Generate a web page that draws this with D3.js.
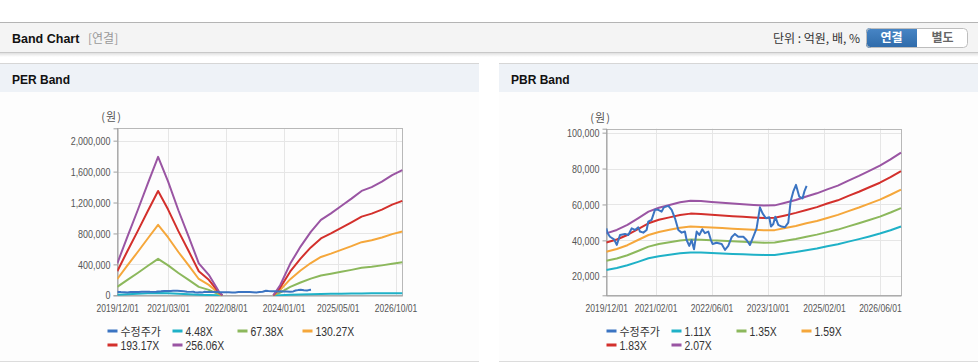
<!DOCTYPE html>
<html><head><meta charset="utf-8">
<script src="https://cdn.jsdelivr.net/npm/d3@7"></script>
<style>
html,body{margin:0;padding:0;background:#fff;}
svg{display:block;}
</style></head>
<body>
<svg id="c" width="978" height="364"></svg>
<script>
// ---------- DATA ----------
const seriesNamesPER = ["수정주가", "4.48X", "67.38X", "130.27X", "193.17X", "256.06X"];
const seriesNamesPBR = ["수정주가", "1.11X", "1.35X", "1.59X", "1.83X", "2.07X"];
const seriesColors = ["#3b74c2", "#1fb1c7", "#8cb85c", "#f5a73b", "#d3302c", "#9a55a3"];

const xTicksPER = ["2019/12/01", "2021/03/01", "2022/08/01", "2024/01/01", "2025/05/01", "2026/10/01"];
const xTicksPBR = ["2019/12/01", "2021/02/01", "2022/06/01", "2023/10/01", "2025/02/01", "2026/06/01"];
const yTicksPER = [0, 400000, 800000, 1200000, 1600000, 2000000];
const yTicksPBR = [20000, 40000, 60000, 80000, 100000];

// adjusted share price (shared by both charts)
const priceDates = ["2019-12-01","2019-12-13","2020-01-02","2020-02-06","2020-03-01","2020-03-29","2020-05-11","2020-06-09","2020-07-08","2020-08-06","2020-09-04","2020-09-18","2020-10-17","2020-11-15","2020-11-29","2020-12-28","2021-01-26","2021-02-24","2021-03-25","2021-04-14","2021-05-22","2021-06-20","2021-07-19","2021-08-17","2021-09-15","2021-10-13","2021-10-28","2021-11-20","2021-12-10","2021-12-31","2022-01-23","2022-02-15","2022-03-13","2022-04-05","2022-05-04","2022-05-27","2022-06-10","2022-07-15","2022-08-28","2022-09-26","2022-10-24","2022-11-22","2022-12-21","2023-01-19","2023-03-04","2023-04-01","2023-04-30","2023-05-29","2023-06-27","2023-07-26","2023-08-18","2023-09-16","2023-10-15","2023-10-30","2023-11-19","2023-12-06","2024-01-01","2024-01-30","2024-02-28","2024-03-28","2024-04-17","2024-05-10","2024-06-03","2024-07-01","2024-07-30","2024-08-14","2024-09-03"];
const priceValues = [46700,44000,42000,40600,37500,43000,43600,43000,46700,45800,47300,44900,44300,45800,50400,51400,57000,57000,56000,58400,59200,57000,52300,45800,44300,44900,40200,36900,40200,35000,44900,43000,46200,44000,44900,40200,38000,38700,38000,34700,36900,41700,43600,42000,42000,40200,37400,42000,46700,58400,55000,52300,52900,47700,49100,53200,48600,47700,47300,49900,61600,67100,70900,64400,63400,67100,70300];

// PER band dates (null = no value)
const perBandDates = ["2019-12","2020-03","2020-06","2020-09","2020-12","2021-03","2021-06","2021-09","2021-12","2022-03","2022-06","2022-07","2023-01","2023-10","2023-12","2024-03","2024-06","2024-09","2024-12","2025-03","2025-06","2025-09","2025-12","2026-03","2026-06","2026-09","2026-12"];
const per448  = [7000,13000,19000,25000,31000,26000,19000,13000,7000,5000,1000,0,null,0,2000,7000,11000,14000,17000,19000,20000,22000,24000,25000,26000,27000,28000];
const per6738 = [109000,200000,289000,382000,471000,387000,289000,200000,109000,70000,12000,0,null,0,34000,108000,166000,216000,257000,279000,304000,329000,355000,368000,387000,409000,426000];
const per13027= [211000,387000,560000,738000,911000,748000,560000,387000,211000,135000,23000,0,null,0,66000,209000,321000,417000,496000,539000,588000,636000,687000,712000,748000,791000,824000];
const per19317= [312000,573000,830000,1094000,1350000,1109000,830000,573000,312000,200000,34000,0,null,0,98000,309000,475000,619000,736000,800000,871000,943000,1018000,1056000,1109000,1173000,1222000];
const per25606= [414000,760000,1100000,1450000,1790000,1470000,1100000,760000,414000,265000,45000,0,null,0,130000,410000,630000,820000,975000,1060000,1155000,1250000,1350000,1400000,1470000,1555000,1620000];

// PBR band dates
const pbrBandDates = ["2019-12","2020-03","2020-06","2020-09","2020-12","2021-03","2021-06","2021-09","2021-12","2022-03","2022-06","2022-09","2022-12","2023-03","2023-06","2023-09","2023-12","2024-03","2024-06","2024-09","2024-12","2025-03","2025-06","2025-09","2025-12","2026-03","2026-06","2026-09","2026-12"];
const pbr111 = [23500,24600,26100,28000,30000,31200,32000,32800,33300,33200,32900,32700,32400,32200,32000,31900,31900,32700,33500,34500,35500,36700,37800,39300,40700,42200,43800,45600,47700];
const pbr135 = [28600,29900,31700,34100,36500,38000,38900,39900,40500,40400,40000,39800,39500,39200,38900,38700,38800,39800,40800,42000,43200,44600,46000,47800,49500,51300,53200,55500,58000];
const pbr159 = [33700,35200,37300,40200,43000,44700,45900,47000,47700,47500,47200,46900,46500,46200,45900,45600,45700,46900,48000,49500,50800,52500,54200,56300,58300,60500,62700,65400,68300];
const pbr183 = [38800,40500,43000,46200,49500,51500,52800,54100,54900,54700,54300,53900,53500,53100,52800,52500,52600,53900,55300,56900,58500,60500,62300,64800,67100,69600,72100,75200,78600];
const pbr207 = [43900,45800,48600,52300,56000,58200,59700,61200,62100,61900,61400,61000,60500,60100,59700,59400,59500,61000,62500,64400,66200,68400,70500,73300,75900,78700,81600,85100,88900];

// ---------- DRAW ----------
const svg = d3.select("#c");
const pDay = d3.timeParse("%Y-%m-%d");
const pMon = d3.timeParse("%Y-%m");
const pTick = d3.timeParse("%Y/%m/%d");
const fmt = d3.format(",");
const LAT = "'Liberation Sans',Arial,sans-serif";
const KR = "'Noto Sans CJK KR','Noto Sans',sans-serif";

const defs = svg.append("defs");
const sh = defs.append("linearGradient").attr("id","shadow").attr("x1",0).attr("y1",0).attr("x2",0).attr("y2",1);
sh.append("stop").attr("offset",0).attr("stop-color","#000").attr("stop-opacity",0.12);
sh.append("stop").attr("offset",1).attr("stop-color","#000").attr("stop-opacity",0);
const bg = defs.append("linearGradient").attr("id","btnBlue").attr("x1",0).attr("y1",0).attr("x2",0).attr("y2",1);
bg.append("stop").attr("offset",0).attr("stop-color","#4886c6");
bg.append("stop").attr("offset",1).attr("stop-color","#2e6aa9");
const cp = defs.append("clipPath").attr("id","btnClip");
cp.append("rect").attr("x",866).attr("y",28).attr("width",102).attr("height",20).attr("rx",4);

// header bar
svg.append("rect").attr("x",0).attr("y",22).attr("width",978).attr("height",30).attr("fill","#f4f4f4");
svg.append("line").attr("x1",0).attr("x2",978).attr("y1",22.5).attr("y2",22.5).attr("stroke","#b4b4b4");
svg.append("line").attr("x1",0).attr("x2",978).attr("y1",52.5).attr("y2",52.5).attr("stroke","#c8c8c8");
svg.append("rect").attr("x",0).attr("y",53).attr("width",978).attr("height",4).attr("fill","url(#shadow)");
svg.append("text").attr("x",12).attr("y",42.5).attr("font-family",LAT)
  .attr("font-weight","bold").attr("font-size",12.5).attr("fill","#111").text("Band Chart");
svg.append("text").attr("x",88).attr("y",42.5).attr("font-family",KR)
  .attr("font-size",12).attr("fill","#999").text("[연결]");
svg.append("text").attr("x",860).attr("y",42.5).attr("text-anchor","end").attr("font-family",KR)
  .attr("font-size",12).attr("fill","#333").attr("xml:space","preserve").text("단위 : 억원, 배, %");
const bgp = svg.append("g").attr("clip-path","url(#btnClip)");
bgp.append("rect").attr("x",866).attr("y",28).attr("width",51).attr("height",20).attr("fill","url(#btnBlue)");
bgp.append("rect").attr("x",917).attr("y",28).attr("width",51).attr("height",20).attr("fill","#fff");
svg.append("rect").attr("x",866.5).attr("y",28.5).attr("width",101).attr("height",19).attr("rx",4)
  .attr("fill","none").attr("stroke","#bdbdbd");
svg.append("text").attr("x",891.5).attr("y",42).attr("text-anchor","middle").attr("font-family",KR)
  .attr("font-weight","bold").attr("font-size",12).attr("fill","#fff").text("연결");
svg.append("text").attr("x",942.5).attr("y",42).attr("text-anchor","middle").attr("font-family",KR)
  .attr("font-weight","bold").attr("font-size",12).attr("fill","#666").text("별도");

function panel(x0, w, title) {
  svg.append("rect").attr("x",x0).attr("y",64).attr("width",w).attr("height",298).attr("fill","#fdfdfd");
  svg.append("rect").attr("x",x0).attr("y",64).attr("width",w).attr("height",28).attr("fill","#eef2f7");
  svg.append("line").attr("x1",x0).attr("x2",x0+w).attr("y1",63.5).attr("y2",63.5).attr("stroke","#d6d6d6");
  svg.append("line").attr("x1",x0).attr("x2",x0+w).attr("y1",361.5).attr("y2",361.5).attr("stroke","#dcdcdc");
  svg.append("text").attr("x",x0+12).attr("y",84).attr("font-family",LAT)
    .attr("font-weight","bold").attr("font-size",12).attr("fill","#111").text(title);
}
panel(0, 479, "PER Band");
panel(499, 479, "PBR Band");

function chart(cfg) {
  const {left, right, top, bottom, yDomain, yTicks, xTicks, bandDates, bands, names, legendX} = cfg;
  const x = d3.scaleTime().domain([pMon("2019-12"), pMon("2026-12")]).range([left, right]);
  const y = d3.scaleLinear().domain(yDomain).range([bottom, top]);
  const g = svg.append("g");
  // grid
  g.selectAll(".hg").data(yTicks).join("line")
    .attr("x1",left).attr("x2",right).attr("y1",d=>Math.round(y(d))+0.5).attr("y2",d=>Math.round(y(d))+0.5)
    .attr("stroke","#e6e6e6");
  g.selectAll(".vg").data(xTicks).join("line")
    .attr("y1",top).attr("y2",bottom).attr("x1",d=>Math.round(x(pTick(d)))+0.5).attr("x2",d=>Math.round(x(pTick(d)))+0.5)
    .attr("stroke","#e6e6e6");
  // frame
  g.append("rect").attr("x",Math.round(left)+0.5).attr("y",Math.round(top)+0.5)
    .attr("width",Math.round(right)-Math.round(left)).attr("height",Math.round(bottom)-Math.round(top))
    .attr("fill","none").attr("stroke","#b8b8b8");
  // y axis
  const ya = g.append("g").attr("transform",`translate(${Math.round(left)+0.5},0)`)
    .call(d3.axisLeft(y).tickValues(yTicks).tickFormat(fmt).tickSize(4).tickPadding(3));
  ya.select(".domain").attr("stroke","#a0a0a0");
  ya.selectAll(".tick line").attr("stroke","#a0a0a0");
  const ys = 0.78;
  ya.selectAll("text").attr("font-family",LAT).attr("font-size",11.5).attr("fill","#555")
    .attr("x",-7/ys).attr("transform",`scale(${ys},1)`);
  // x axis
  const xa = g.append("g").attr("transform",`translate(0,${Math.round(bottom)+0.5})`)
    .call(d3.axisBottom(x).tickValues(xTicks.map(pTick)).tickFormat(d3.timeFormat("%Y/%m/%d")).tickSize(0).tickPadding(8));
  xa.select(".domain").attr("stroke","#a0a0a0");
  xa.selectAll("text").attr("font-family",LAT).attr("font-size",11.5).attr("fill","#555")
    .attr("transform","scale(0.74,1)");
  // unit
  g.append("text").attr("x",left-16).attr("y",top-7).attr("font-family",KR).attr("font-size",11)
    .attr("letter-spacing",1).attr("fill","#555").text("(원)");
  // lines
  const line = d3.line().defined(d=>d.v!=null).x(d=>x(d.t)).y(d=>y(d.v));
  const clipId = "clip"+Math.round(left);
  defs.append("clipPath").attr("id",clipId).append("rect")
    .attr("x",left).attr("y",top).attr("width",right-left+1).attr("height",bottom-top+1);
  const lg = g.append("g").attr("clip-path",`url(#${clipId})`);
  bands.forEach((vals,i)=>{
    const data = bandDates.map((d,j)=>({t:pMon(d), v:vals[j]}));
    lg.append("path").attr("d",line(data)).attr("fill","none").attr("stroke",seriesColors[i+1])
      .attr("stroke-width",2).attr("stroke-linejoin","round");
  });
  const pdata = priceDates.map((d,j)=>({t:pDay(d), v:priceValues[j]}));
  lg.append("path").attr("d",line(pdata)).attr("fill","none").attr("stroke",seriesColors[0])
    .attr("stroke-width",2).attr("stroke-linejoin","round");
  // legend
  names.forEach((n,i)=>{
    const lx = legendX + 65*(i%4), ly = 331 + 14*Math.floor(i/4);
    svg.append("rect").attr("x",lx).attr("y",ly-1.5).attr("width",10).attr("height",3).attr("fill",seriesColors[i]);
    const tg = svg.append("g").attr("transform",`translate(${lx+13},${ly+4.5})`);
    const t = tg.append("text").attr("x",0).attr("y",0).attr("fill","#333").text(n);
    if (i===0) t.attr("font-family",KR).attr("font-size",11);
    else t.attr("font-family",LAT).attr("font-size",13).attr("transform","scale(0.8,1)");
  });
}

chart({left:117.3, right:402.3, top:128.3, bottom:295.3, yDomain:[0,2160000], yTicks:yTicksPER, xTicks:xTicksPER,
  bandDates:perBandDates, bands:[per448,per6738,per13027,per19317,per25606], names:seriesNamesPER, legendX:107.5});
chart({left:606.3, right:901, top:128.7, bottom:295.3, yDomain:[9400,102200], yTicks:yTicksPBR, xTicks:xTicksPBR,
  bandDates:pbrBandDates, bands:[pbr111,pbr135,pbr159,pbr183,pbr207], names:seriesNamesPBR, legendX:606.5});
</script>
</body></html>
